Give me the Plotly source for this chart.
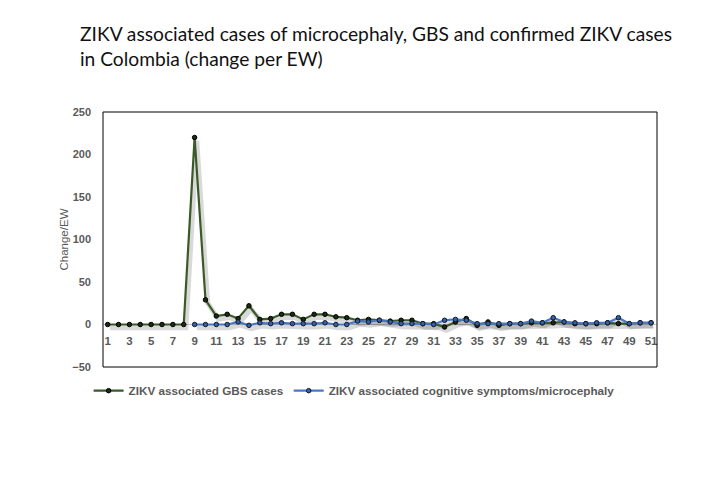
import plotly.graph_objects as go

# epidemiological weeks
weeks = list(range(1, 52))

# ZIKV associated GBS cases, change per EW
gbs_change = [0, 0, 0, 0, 0, 0, 0, 0, 220, 29,
              10, 12, 7, 22, 6, 7, 12, 12, 6, 12,
              12, 9, 8, 5, 6, 5, 4, 5, 5, 1,
              1, -3, 3, 7, -1, 3, -1, 1, 1, 2,
              2, 2, 3, 1, 1, 1, 2, 1, 1, 2, 2]

# ZIKV associated cognitive symptoms/microcephaly, change per EW (reported from EW 9)
micro_change = [None, None, None, None, None, None, None, None, 0, 0,
                0, 0, 3, -1, 2, 1, 2, 1, 1, 1,
                2, 0, 0, 4, 3, 5, 3, 1, 1, 1,
                0, 5, 6, 5, 1, 1, 1, 1, 1, 4,
                2, 8, 3, 2, 1, 2, 2, 8, 1, 2, 2]

x_ticks = list(range(1, 52, 2))

green = "#3a5a28"
blue = "#4a78c4"
grey = "#5a5a5a"

x_range = [0.57, 51.55]
y_range = [-50, 250]

# page has an 8px body margin, so the figure is 8px smaller
W, H = 712, 472

fig = go.Figure()

# soft drop shadow under the lines (same data, shifted axes)
for vals in (gbs_change, micro_change):
    fig.add_trace(go.Scatter(x=weeks, y=vals, mode="lines",
                             line=dict(color="rgba(0,0,0,0.15)", width=5),
                             hoverinfo="skip", showlegend=False,
                             xaxis="x", yaxis="y"))

fig.add_trace(go.Scatter(x=weeks, y=gbs_change, mode="lines+markers",
                         name="ZIKV associated GBS cases",
                         line=dict(color=green, width=2.2),
                         marker=dict(color="#1c2a14", size=4.5,
                                     line=dict(color="#000000", width=1)),
                         xaxis="x2", yaxis="y2"))
fig.add_trace(go.Scatter(x=weeks, y=micro_change, mode="lines+markers",
                         name="ZIKV associated cognitive symptoms/microcephaly",
                         line=dict(color=blue, width=2.2),
                         marker=dict(color="#3b5f9a", size=4.5,
                                     line=dict(color="#0d1a33", width=1)),
                         xaxis="x2", yaxis="y2"))

fig.update_layout(
    width=W, height=H,
    paper_bgcolor="white", plot_bgcolor="white",
    margin=dict(l=95, r=63, t=104, b=113, autoexpand=False),
    title=dict(text="ZIKV associated cases of microcephaly, GBS and confirmed ZIKV cases<br>in Colombia (change per EW)",
               x=72 / W, xref="container", xanchor="left",
               y=1 - 33 / H, yref="container", yanchor="top",
               font=dict(family="Lato", size=19.2, color="#111111")),
    xaxis=dict(range=[x_range[0] - 0.2, x_range[1] - 0.2], visible=False),
    yaxis=dict(range=[y_range[0] + 3.8, y_range[1] + 3.8], visible=False),
    xaxis2=dict(range=x_range, overlaying="x", anchor="free", position=50 / 300,
                tickvals=x_ticks, showgrid=False, zeroline=False, showline=False,
                ticks="", ticklabelstandoff=8,
                tickfont=dict(family="Liberation Sans", size=11.5, color=grey,
                              weight="bold")),
    yaxis2=dict(range=y_range, overlaying="y", side="left", anchor="x2",
                dtick=50, showgrid=False, zeroline=True, zerolinecolor="#c8c8c8",
                zerolinewidth=1, showline=False, ticks="", ticklabelstandoff=11,
                tickfont=dict(family="Liberation Sans", size=11, color=grey,
                              weight="bold"),
                title=dict(text="Change/EW", standoff=1,
                           font=dict(family="Liberation Sans", size=11.5, color=grey))),
    legend=dict(orientation="h", x=-0.026, y=-0.036, xanchor="left", yanchor="top",
                itemwidth=30,
                font=dict(family="Liberation Sans", size=11.7, color=grey, weight="bold")),
    shapes=[dict(type="rect", xref="paper", yref="paper", x0=0, y0=0, x1=1, y1=1,
                 line=dict(color="black", width=1), layer="above")],
)

fig.write_html("out.html")
